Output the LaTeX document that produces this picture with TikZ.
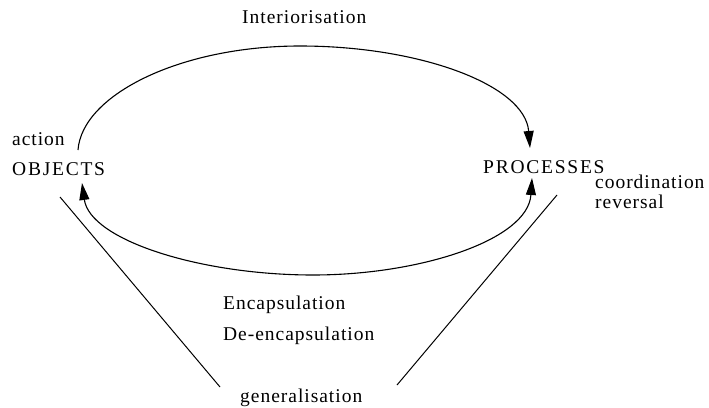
\documentclass[tikz,border=0pt]{standalone}
\usepackage{fontspec}
\setmainfont{Liberation Serif}
\usetikzlibrary{arrows.meta}
\begin{document}
\begin{tikzpicture}[x=1pt,y=-1pt,
  lbl/.style={anchor=base west, inner sep=0pt, font=\fontsize{19.5}{22}\selectfont\addfontfeature{LetterSpace=5}},
  caps/.style={anchor=base west, inner sep=0pt, font=\fontsize{19.5}{22}\selectfont\addfontfeature{LetterSpace=9}},
  conn/.style={line width=1.1pt},
  plain/.style={line width=1pt},
  tipend/.style={-{Triangle[length=17pt,width=10pt]}},
  tipboth/.style={{Triangle[length=17pt,width=10pt]}-{Triangle[length=17pt,width=10pt]}}
]
\useasboundingbox (0,0) rectangle (709,407);

% texts
\node[lbl]  (inter) at (242,23)  {Interiorisation};
\node[lbl]  (action) at (12,145) {action};
\node[caps] (obj)   at (12,175)  {OBJECTS};
\node[caps] (proc)  at (483,173) {PROCESSES};
\node[lbl]  (coord) at (595,188) {coordination};
\node[lbl]  (rev)   at (595,208) {reversal};
\node[lbl]  (enc)   at (223,309) {Encapsulation};
\node[lbl]  (denc)  at (223,340) {De-encapsulation};
\node[lbl]  (gen)   at (240,402) {generalisation};

% connector end points
\coordinate (topstart) at (78,150);
\coordinate (toptip)   at (530,148);
\coordinate (objtip)   at (82,183);
\coordinate (proctip)  at (532,178);
\coordinate (lstart)   at (60,197);
\coordinate (lend)     at (220,387);
\coordinate (rstart)   at (557,195);
\coordinate (rend)     at (397,385);

% interiorisation arc
\draw[conn,tipend] (topstart) .. controls (82,95) and (180,46) .. (300,46)
   .. controls (420,46) and (525,85) .. (toptip);

% encapsulation / de-encapsulation arc
\draw[conn,tipboth] (objtip) .. controls (90,240) and (200,275) .. (313,275)
   .. controls (420,275) and (528,240) .. (proctip);

% generalisation lines
\draw[plain] (lstart) -- (lend);
\draw[plain] (rstart) -- (rend);
\end{tikzpicture}
\end{document}
